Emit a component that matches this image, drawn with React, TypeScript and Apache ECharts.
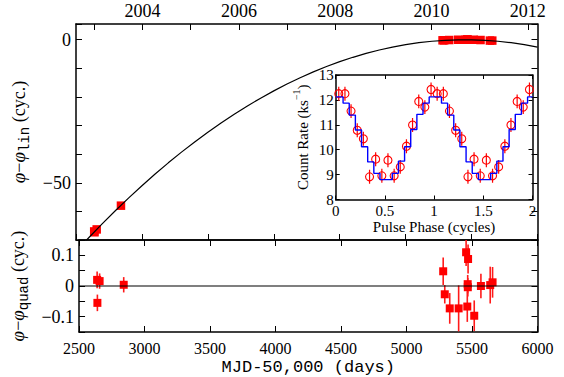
import React, { useEffect, useRef } from 'react';
import * as echarts from 'echarts';

// ---- Main panel: quadratic phase model ----
const curveMJD = [2500, 2600, 2700, 2800, 2900, 3000, 3100, 3200, 3300, 3400, 3500, 3600, 3700, 3800, 3900, 4000, 4100, 4200, 4300, 4400, 4500, 4600, 4700, 4800, 4900, 5000, 5100, 5200, 5300, 5400, 5500, 5600, 5700, 5800, 5900, 6000];
const curvePhase = [-73.97, -69.04, -64.28, -59.69, -55.27, -51.02, -46.94, -43.03, -39.29, -35.72, -32.32, -29.09, -26.03, -23.14, -20.42, -17.87, -15.49, -13.28, -11.24, -9.37, -7.67, -6.14, -4.78, -3.59, -2.57, -1.72, -1.04, -0.53, -0.19, -0.02, -0.02, -0.19, -0.53, -1.04, -1.72, -2.57];

// ---- Timing epochs ----
const epochMJD = [2638, 2657, 2640, 2841, 5280, 5292, 5330, 5398, 5455, 5470, 5467, 5468, 5464, 5517, 5568, 5639, 5657];
const phaseLin = [-67.0, -66.3, -67.3, -58.0, -0.2, -0.2, -0.1, 0, 0, 0, 0, 0, 0, 0, -0.1, -0.3, -0.3];
const residual = [0.020, 0.016, -0.055, 0.004, 0.048, -0.027, -0.073, -0.073, 0.110, 0.088, 0.006, -0.004, -0.067, -0.097, 0.000, 0.003, 0.012];
const residualErr = [0.027, 0.025, 0.027, 0.025, 0.045, 0.030, 0.050, 0.075, 0.045, 0.047, 0.030, 0.030, 0.050, 0.050, 0.040, 0.060, 0.050];

// ---- Year axis ----
const yearTickMJD = [2640, 3005, 3370, 3736, 4101, 4466, 4831, 5197, 5562, 5927];
const yearLabelMJD = [3005, 3736, 4466, 5197, 5927];
const yearLabels = ['2004', '2006', '2008', '2010', '2012'];

// ---- Inset: pulse profile (one cycle, shown twice) ----
const pulsePhase = [0.031, 0.094, 0.156, 0.219, 0.281, 0.344, 0.406, 0.469, 0.531, 0.594, 0.656, 0.719, 0.781, 0.844, 0.906, 0.969];
const countRate = [12.25, 12.25, 11.55, 10.78, 10.44, 8.91, 9.62, 8.95, 9.58, 8.95, 9.31, 10.14, 10.99, 11.94, 11.71, 12.42];
const countRateErr = [0.28, 0.28, 0.28, 0.28, 0.28, 0.28, 0.28, 0.28, 0.28, 0.28, 0.28, 0.28, 0.28, 0.28, 0.28, 0.28];
const modelEdges = [0, 0.075, 0.1375, 0.2, 0.2625, 0.325, 0.3875, 0.45, 0.575, 0.6375, 0.7, 0.7625, 0.825, 0.8875, 0.95];
const modelRate = [12.12, 11.87, 11.39, 10.79, 10.12, 9.51, 9.05, 8.8, 9.05, 9.54, 10.12, 10.81, 11.42, 11.87, 12.12];
const cycles = [0, 1];

const SERIF = '"Liberation Serif", "DejaVu Serif", serif';
const MONO = '"Liberation Mono", monospace';

function errRender(color: string, width: number) {
  return (params: any, api: any) => {
    const x = api.value(0);
    const y = api.value(1);
    const e = api.value(2);
    const p1 = api.coord([x, y - e]);
    const p2 = api.coord([x, y + e]);
    return {
      type: 'line',
      shape: { x1: p1[0], y1: p1[1], x2: p2[0], y2: p2[1] },
      style: { stroke: color, lineWidth: width },
    };
  };
}

const frame = { show: true, onZero: false, lineStyle: { color: '#000', width: 1.5 } };
const tickIn = (len: number) => ({ show: true, inside: true, length: len, lineStyle: { color: '#000', width: 1 } });
const noLabel = { show: false };
const noSplit = { show: false };

export default function App() {
  const ref = useRef<HTMLDivElement>(null);
  useEffect(() => {
    if (!ref.current) return;
    const chart = echarts.init(ref.current, null, { renderer: 'svg' });

    const topPts = epochMJD.map((t, i) => [t, phaseLin[i]]);
    const resPts = epochMJD.map((t, i) => [t, residual[i]]);
    const resErr = epochMJD.map((t, i) => [t, residual[i], residualErr[i]]);
    const curve = curveMJD.map((t, i) => [t, curvePhase[i]]);

    const profPts: number[][] = [];
    const profErr: number[][] = [];
    const model: number[][] = [];
    cycles.forEach((c) => {
      pulsePhase.forEach((p, i) => {
        profPts.push([p + c, countRate[i]]);
        profErr.push([p + c, countRate[i], countRateErr[i]]);
      });
      modelEdges.forEach((e, i) => model.push([e + c, modelRate[i]]));
    });
    model.push([2, modelRate[modelRate.length - 1]]);

    const nameRich = {
      i: { fontFamily: SERIF, fontStyle: 'italic', fontSize: 19, lineHeight: 26, verticalAlign: 'middle', color: '#000' },
      n: { fontFamily: SERIF, fontSize: 18, lineHeight: 26, verticalAlign: 'middle', color: '#000' },
      s: { fontFamily: MONO, fontSize: 14, lineHeight: 14, verticalAlign: 'bottom', color: '#000' },
    };

    const option: any = {
      animation: false,
      backgroundColor: '#fff',
      textStyle: { fontFamily: SERIF },
      grid: [
        { left: 76, top: 24, width: 461.5, height: 216 },
        { left: 76, top: 240, width: 461.5, height: 92 },
        { left: 335.7, top: 75, width: 196.8, height: 124.5, show: true, backgroundColor: '#fff', borderWidth: 0 },
      ],
      xAxis: [
        { gridIndex: 0, type: 'value', min: 2500, max: 6000, interval: 500, position: 'bottom', axisLine: frame, axisTick: tickIn(6), axisLabel: noLabel, splitLine: noSplit },
        {
          gridIndex: 0, type: 'value', min: 2500, max: 6000, position: 'top', axisLine: frame,
          axisTick: { ...tickIn(6), customValues: yearTickMJD },
          axisLabel: {
            customValues: yearLabelMJD, fontSize: 18, margin: 4, color: '#000', fontFamily: SERIF,
            formatter: (v: number) => { const k = yearLabelMJD.indexOf(Math.round(v)); return k >= 0 ? yearLabels[k] : ''; },
          },
          splitLine: noSplit,
        },
        {
          gridIndex: 1, type: 'value', min: 2500, max: 6000, interval: 500, position: 'bottom', axisLine: frame, axisTick: tickIn(6),
          axisLabel: { fontSize: 16, margin: 8, color: '#000', fontFamily: SERIF, formatter: (v: number) => String(Math.round(v)) },
          splitLine: noSplit,
          name: 'MJD-50,000 (days)', nameLocation: 'middle', nameGap: 27,
          nameTextStyle: { fontFamily: MONO, fontSize: 17, color: '#000' },
        },
        { gridIndex: 1, type: 'value', min: 2500, max: 6000, interval: 500, position: 'top', axisLine: frame, axisTick: tickIn(6), axisLabel: noLabel, splitLine: noSplit },
        {
          gridIndex: 2, type: 'value', min: 0, max: 2, interval: 0.5, position: 'bottom', axisLine: frame, axisTick: tickIn(4),
          axisLabel: { fontSize: 15, margin: 4, color: '#000', fontFamily: SERIF, formatter: (v: number) => String(v) },
          splitLine: noSplit,
          name: 'Pulse Phase (cycles)', nameLocation: 'middle', nameGap: 20,
          nameTextStyle: { fontFamily: SERIF, fontSize: 15, color: '#000' },
        },
        { gridIndex: 2, type: 'value', min: 0, max: 2, interval: 0.5, position: 'top', axisLine: frame, axisTick: tickIn(4), axisLabel: noLabel, splitLine: noSplit },
      ],
      yAxis: [
        {
          gridIndex: 0, type: 'value', min: -70, max: 5.5, interval: 10, position: 'left', axisLine: frame, axisTick: tickIn(6),
          axisLabel: {
            fontSize: 18, margin: 5, color: '#000', fontFamily: SERIF,
            formatter: (v: number) => (v === 0 ? '0' : v === -50 ? '\u221250' : ''),
          },
          splitLine: noSplit,
          name: '{i|\u03c6}{n|\u2212}{i|\u03c6}{s|lin}{n| (cyc.)}', nameLocation: 'middle', nameGap: 40, nameRotate: 90,
          nameTextStyle: { rich: nameRich },
        },
        { gridIndex: 0, type: 'value', min: -70, max: 5.5, interval: 10, position: 'right', axisLine: frame, axisTick: tickIn(6), axisLabel: noLabel, splitLine: noSplit },
        {
          gridIndex: 1, type: 'value', min: -0.15, max: 0.15, interval: 0.05, position: 'left', axisLine: frame, axisTick: tickIn(6),
          axisLabel: {
            fontSize: 18, margin: 5, color: '#000', fontFamily: SERIF,
            formatter: (v: number) => { const r = Math.round(v * 100); return r === 10 ? '0.1' : r === 0 ? '0' : r === -10 ? '\u22120.1' : ''; },
          },
          splitLine: noSplit,
          name: '{i|\u03c6}{n|\u2212}{i|\u03c6}{s|quad}{n| (cyc.)}', nameLocation: 'middle', nameGap: 42, nameRotate: 90,
          nameTextStyle: { rich: nameRich },
        },
        { gridIndex: 1, type: 'value', min: -0.15, max: 0.15, interval: 0.05, position: 'right', axisLine: frame, axisTick: tickIn(6), axisLabel: noLabel, splitLine: noSplit },
        {
          gridIndex: 2, type: 'value', min: 8, max: 13, interval: 1, position: 'left', axisLine: frame, axisTick: tickIn(4),
          axisLabel: { fontSize: 15, margin: 2, color: '#000', fontFamily: SERIF },
          splitLine: noSplit,
          name: '{n|Count Rate (ks}{u|\u22121}{n|)}', nameLocation: 'middle', nameGap: 22, nameRotate: 90,
          nameTextStyle: {
            rich: {
              n: { fontFamily: SERIF, fontSize: 15, lineHeight: 22, verticalAlign: 'middle', color: '#000' },
              u: { fontFamily: SERIF, fontSize: 10, lineHeight: 10, verticalAlign: 'top', color: '#000' },
            },
          },
        },
        { gridIndex: 2, type: 'value', min: 8, max: 13, interval: 1, position: 'right', axisLine: frame, axisTick: tickIn(4), axisLabel: noLabel, splitLine: noSplit },
      ],
      series: [
        {
          type: 'line', xAxisIndex: 0, yAxisIndex: 0, data: curve, showSymbol: false, symbol: 'none',
          lineStyle: { color: '#000', width: 1.2 }, clip: true, silent: true,
        },
        {
          type: 'scatter', xAxisIndex: 0, yAxisIndex: 0, data: topPts, symbol: 'rect', symbolSize: 8.5,
          itemStyle: { color: '#ff0000', opacity: 1 },
        },
        {
          type: 'line', xAxisIndex: 2, yAxisIndex: 2, data: [[2500, 0], [6000, 0]], showSymbol: false, symbol: 'none',
          lineStyle: { color: '#000', width: 1.2 },
        },
        {
          type: 'custom', xAxisIndex: 2, yAxisIndex: 2, data: resErr, renderItem: errRender('#ff1a1a', 1.6), clip: true,
          encode: { x: 0, y: 1 },
        },
        {
          type: 'scatter', xAxisIndex: 2, yAxisIndex: 2, data: resPts, symbol: 'rect', symbolSize: 8,
          itemStyle: { color: '#ff0000', opacity: 1 },
        },
        {
          type: 'line', xAxisIndex: 4, yAxisIndex: 4, data: model, step: 'end', showSymbol: false, symbol: 'none',
          lineStyle: { color: '#0000ff', width: 1.4 },
        },
        {
          type: 'custom', xAxisIndex: 4, yAxisIndex: 4, data: profErr, renderItem: errRender('#ff0000', 1.2), clip: true,
          encode: { x: 0, y: 1 },
        },
        {
          type: 'scatter', xAxisIndex: 4, yAxisIndex: 4, data: profPts, symbol: 'circle', symbolSize: 8,
          itemStyle: { color: 'rgba(0,0,0,0)', borderColor: '#ff0000', borderWidth: 1.1, opacity: 1 },
        },
      ],
    };
    chart.setOption(option);
    return () => chart.dispose();
  }, []);
  return <div ref={ref} style={{ position: 'fixed', left: 0, top: 0, width: 564, height: 377 }} />;
}
